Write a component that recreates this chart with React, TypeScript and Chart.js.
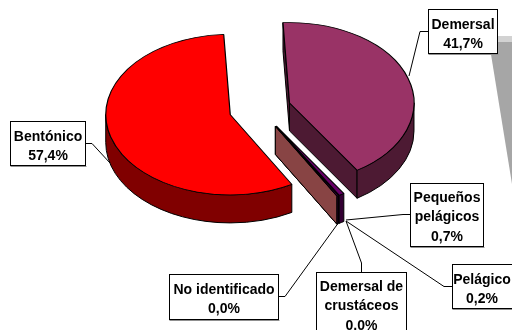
import React, { useEffect, useRef } from "react";
import { Chart, registerables } from "chart.js";

Chart.register(...registerables);

const categories = ["Demersal", "Pequeños pelágicos", "Pelágico", "Demersal de crustáceos", "No identificado", "Bentónico"];
const values = [41.7, 0.7, 0.2, 0.0, 0.0, 57.4];
const topColors = ["#993366", "#660066", "#660066", "#884444", "#884444", "#ff0000"];
const sideColors = ["#4d1a33", "#330033", "#330033", "#884444", "#884444", "#800000"];
const labelLines = [["Demersal"], ["Pequeños", "pelágicos"], ["Pelágico"], ["Demersal de", "crustáceos"], ["No identificado"], ["Bentónico"]];

// layout of the callouts: box [x1, y1, x2, y2], first baseline, leader polyline
const boxes = [
  [428.5, 9.5, 497.5, 53.5],
  [410.5, 183.5, 483.5, 246.5],
  [452.5, 264.5, 516.5, 308.5],
  [316.5, 272.5, 406.5, 340.5],
  [169.5, 274.5, 278.5, 319.5],
  [10.5, 121.5, 85.5, 165.5],
];
const baselines = [29, 202, 284, 291, 294, 141];
const leaders = [
  [[428, 31.5], [420, 31.5], [409, 76]],
  [[410, 214.5], [403, 214.5], [346, 220]],
  [[452, 286.5], [444, 286.5], [346, 221]],
  [[361.5, 272], [361.5, 263], [346, 221]],
  [[278, 296.5], [285, 296.5], [339, 222]],
  [[85, 143.5], [92, 143.5], [110, 163]],
];

const TILT = 0.645;
const DEPTH = 28;
const EXPLODE = 31;
const RADIUS = 124.5;
const FONT = 'bold 14px "Liberation Sans", Arial, sans-serif';

const pie3d = {
  id: "pie3d",
  beforeDraw(chart: any) {
    const ctx = chart.ctx;
    ctx.save();
    ctx.fillStyle = "#d2d2d2";
    ctx.fillRect(489, 36, 23, 6);
    ctx.fillStyle = "#a6a6a6";
    ctx.beginPath();
    ctx.moveTo(489, 42);
    ctx.lineTo(512, 42);
    ctx.lineTo(512, 184);
    ctx.closePath();
    ctx.fill();
    ctx.restore();
  },
  beforeDatasetsDraw(chart: any) {
    const ctx = chart.ctx;
    const arcs = chart.getDatasetMeta(0).data;
    const geo = arcs.map((arc: any) => {
      const p = arc.getProps(["x", "y", "startAngle", "endAngle", "outerRadius"], true);
      const mid = (p.startAngle + p.endAngle) / 2;
      return { ...p, cx: p.x + Math.cos(mid) * EXPLODE, cy: p.y + Math.sin(mid) * EXPLODE * TILT };
    });
    ctx.save();
    ctx.lineWidth = 1;
    ctx.strokeStyle = "#000000";
    ctx.lineJoin = "round";
    const wall = (g: any, a: number, color: string) => {
      const px = g.cx + Math.cos(a) * g.outerRadius;
      const py = g.cy + Math.sin(a) * g.outerRadius * TILT;
      ctx.beginPath();
      ctx.moveTo(g.cx, g.cy);
      ctx.lineTo(px, py);
      ctx.lineTo(px, py + DEPTH);
      ctx.lineTo(g.cx, g.cy + DEPTH);
      ctx.closePath();
      ctx.fillStyle = color;
      ctx.fill();
      ctx.stroke();
    };
    const rim = (g: any, color: string) => {
      const TAU = Math.PI * 2;
      for (const shift of [-TAU, 0, TAU]) {
        const a = Math.max(g.startAngle + shift, 0);
        const b = Math.min(g.endAngle + shift, Math.PI);
        if (b <= a) continue;
        const rx = g.outerRadius;
        const ry = rx * TILT;
        ctx.beginPath();
        ctx.ellipse(g.cx, g.cy, rx, ry, 0, a, b);
        ctx.ellipse(g.cx, g.cy + DEPTH, rx, ry, 0, b, a, true);
        ctx.closePath();
        ctx.fillStyle = color;
        ctx.fill();
        ctx.stroke();
      }
    };
    geo.forEach((g: any, i: number) => {
      if (Math.cos(g.startAngle) < 0) wall(g, g.startAngle, sideColors[i]);
      if (Math.cos(g.endAngle) > 0) wall(g, g.endAngle, sideColors[i]);
    });
    geo.forEach((g: any, i: number) => rim(g, sideColors[i]));
    arcs.forEach((arc: any, i: number) => {
      const g = geo[i];
      ctx.save();
      ctx.translate(g.cx, g.cy);
      ctx.scale(1, TILT);
      ctx.translate(-g.x, -g.y);
      arc.draw(ctx);
      ctx.restore();
    });
    ctx.restore();
    return false;
  },
  afterDraw(chart: any) {
    const ctx = chart.ctx;
    ctx.save();
    ctx.lineWidth = 1;
    ctx.strokeStyle = "#000000";
    leaders.forEach((pts) => {
      ctx.beginPath();
      pts.forEach(([x, y], i) => (i ? ctx.lineTo(x, y) : ctx.moveTo(x, y)));
      ctx.stroke();
    });
    ctx.font = FONT;
    ctx.textAlign = "center";
    ctx.textBaseline = "alphabetic";
    categories.forEach((_, i) => {
      const [x1, y1, x2, y2] = boxes[i];
      ctx.fillStyle = "#ffffff";
      ctx.fillRect(x1, y1, x2 - x1, y2 - y1);
      ctx.strokeStyle = "#000000";
      ctx.strokeRect(x1, y1, x2 - x1, y2 - y1);
      ctx.strokeStyle = "#909090";
      ctx.beginPath();
      ctx.moveTo(x1, y2 + 1);
      ctx.lineTo(x2 + 1, y2 + 1);
      ctx.stroke();
      const lines = [...labelLines[i], values[i].toFixed(1).replace(".", ",") + "%"];
      const mx = i === 2 ? 482 : (x1 + x2) / 2;
      ctx.fillStyle = "#000000";
      lines.forEach((t, j) => ctx.fillText(t, mx, baselines[i] + j * 19.3));
    });
    ctx.restore();
  },
};

export default function App() {
  const ref = useRef<HTMLCanvasElement | null>(null);
  useEffect(() => {
    const chart = new Chart(ref.current as HTMLCanvasElement, {
      type: "pie",
      data: {
        labels: categories,
        datasets: [{ data: values, backgroundColor: topColors, borderColor: "#000000", borderWidth: 1.2, offset: 0 }],
      },
      options: {
        animation: false,
        responsive: false,
        rotation: -3,
        radius: RADIUS,
        layout: { padding: { left: 8, right: 0, top: 0, bottom: 112 } },
        plugins: { legend: { display: false }, tooltip: { enabled: false }, title: { display: false } },
      },
      plugins: [pie3d],
    } as any);
    return () => chart.destroy();
  }, []);
  return (
    <div style={{ position: "absolute", left: 0, top: 0, width: 512, height: 330 }}>
      <canvas ref={ref} width={512} height={330} style={{ display: "block" }} />
    </div>
  );
}
